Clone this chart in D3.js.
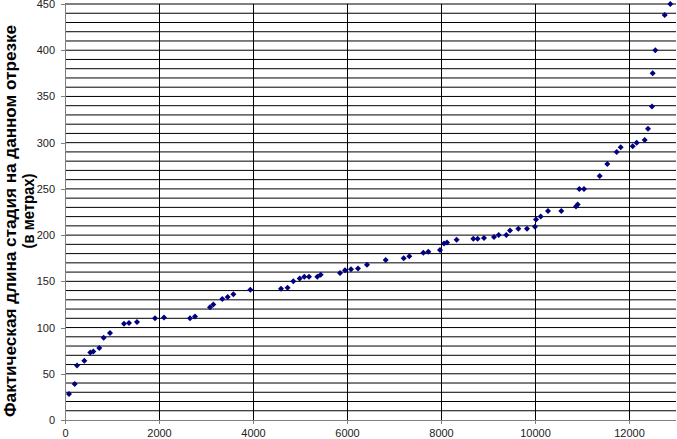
<!DOCTYPE html>
<meta charset="utf-8">
<style>
body { margin: 0; background: #fff; }
svg { display: block; }
.axis text { font: 11px "Liberation Sans", Arial, sans-serif; fill: #222; }
.axis path, .axis line { stroke: #808080; shape-rendering: crispEdges; }
.grid line { stroke: #000; stroke-width: 1; }
.label { font: bold 16px "Liberation Sans", Arial, sans-serif; fill: #000; }
</style>
<body>
<script src="https://d3js.org/d3.v7.min.js"></script>
<script>

// distance along the route (x) and actual stage length in metres (y)
var dist = [85, 206, 255, 411, 539, 603, 730, 823, 957, 1255, 1362, 1532, 1915, 2106,
  2660, 2766, 3085, 3156, 3347, 3461, 3582, 3943, 4596, 4735, 4858, 4993, 5092, 5191,
  5369, 5440, 5851, 5957, 6085, 6234, 6426, 6823, 7206, 7326, 7624, 7730, 7979, 8064,
  8128, 8333, 8688, 8780, 8915, 9128, 9227, 9390, 9468, 9645, 9830, 10000, 10021, 10121,
  10277, 10560, 10872, 10908, 10943, 11043, 11376, 11539, 11738, 11823, 12079, 12164,
  12334, 12404, 12489, 12504, 12560, 12760, 12879];
var len = [28, 39, 59, 64, 73, 74, 78, 89, 94, 104, 105, 106, 110, 111,
  110, 112, 122, 125, 131, 133, 136, 141, 142, 143, 150, 153, 155, 155,
  155, 157, 159, 162, 163, 164, 168, 173, 175, 177, 181, 182, 184, 191,
  192, 195, 196, 196, 197, 198, 200, 200, 205, 207, 207, 209, 217, 220,
  226, 226, 231, 233, 250, 250, 264, 277, 290, 295, 296, 300,
  303, 315, 339, 375, 400, 438, 450];

var xTicks = [0, 2000, 4000, 6000, 8000, 10000, 12000];
var yTicks = [0, 50, 100, 150, 200, 250, 300, 350, 400, 450];
var yGrid = d3.range(10, 451, 10);

var width = 677, height = 439;

var x = d3.scaleLinear().domain([0, 13000]).range([65, 676]);
var y = d3.scaleLinear().domain([0, 450]).range([420, 4]);

var svg = d3.select("body").append("svg")
    .attr("width", width)
    .attr("height", height);

// horizontal grid every 10 m
svg.append("g")
    .attr("class", "grid")
  .selectAll("line")
    .data(yGrid)
  .enter().append("line")
    .attr("x1", x(0))
    .attr("x2", x(13000))
    .attr("y1", function(d) { return y(d); })
    .attr("y2", function(d) { return y(d); });

// vertical grid
svg.append("g")
    .attr("class", "grid")
  .selectAll("line")
    .data(xTicks.slice(1))
  .enter().append("line")
    .attr("x1", function(d) { return Math.round(x(d)) + 0.5; })
    .attr("x2", function(d) { return Math.round(x(d)) + 0.5; })
    .attr("y1", y(450))
    .attr("y2", y(0) + 4);

svg.append("g")
    .attr("class", "x axis")
    .attr("transform", "translate(0," + y(0) + ")")
    .call(d3.axisBottom(x).tickValues(xTicks).tickFormat(d3.format("d")).tickSize(4).tickPadding(5));

svg.append("g")
    .attr("class", "y axis")
    .attr("transform", "translate(" + x(0) + ",0)")
    .call(d3.axisLeft(y).tickValues(yTicks).tickSize(4).tickPadding(6));

svg.selectAll(".axis .domain").attr("d", function() {
  return this.parentNode.getAttribute("class").indexOf("x") === 0
    ? "M" + x(0) + ",0H" + x(13000)
    : "M0," + y(0) + "V" + y(450);
});

svg.append("text")
    .attr("class", "label")
    .attr("transform", "translate(16,221) rotate(-90)")
    .attr("textLength", 392)
    .attr("lengthAdjust", "spacingAndGlyphs")
    .style("text-anchor", "middle")
    .text("Фактическая длина стадия на данном отрезке");

svg.append("text")
    .attr("class", "label")
    .attr("transform", "translate(34,211) rotate(-90)")
    .attr("textLength", 75)
    .attr("lengthAdjust", "spacingAndGlyphs")
    .style("text-anchor", "middle")
    .text("(в метрах)");

svg.selectAll(".dot")
    .data(dist)
  .enter().append("path")
    .attr("class", "dot")
    .attr("d", d3.symbol().type(d3.symbolSquare).size(18))
    .attr("transform", function(d, i) { return "translate(" + x(d) + "," + y(len[i]) + ") rotate(45)"; })
    .style("fill", "#000080");

</script>
